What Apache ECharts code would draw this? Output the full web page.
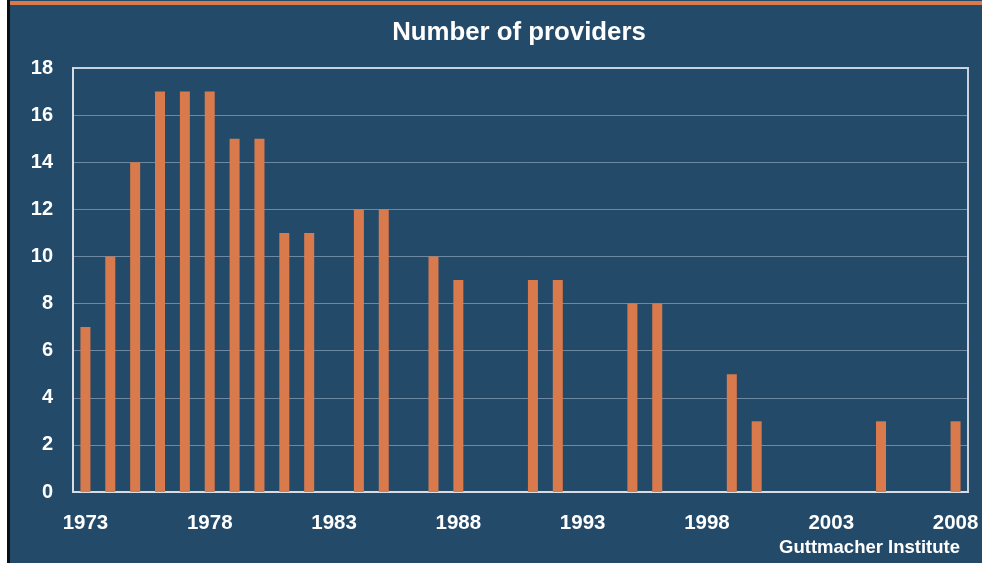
<!DOCTYPE html>
<html><head><meta charset="utf-8">
<script src="https://cdn.jsdelivr.net/npm/echarts@6/dist/echarts.min.js"></script>
<style>html,body{margin:0;padding:0;background:#fff;}#c{width:982px;height:563px;}</style>
</head><body><div id="c"></div>
<script>
const years = [];
for (let y = 1973; y <= 2008; y++) years.push(String(y));
const providerYears = ['1973','1974','1975','1976','1977','1978','1979','1980','1981','1982','1984','1985','1987','1988','1991','1992','1995','1996','1999','2000','2005','2008'];
const providerCounts = [7,10,14,17,17,17,15,15,11,11,12,12,10,9,9,9,8,8,5,3,3,3];
const yTicks = [0,2,4,6,8,10,12,14,16,18];

const values = years.map(y => { const i = providerYears.indexOf(y); return i >= 0 ? providerCounts[i] : null; });

const chart = echarts.init(document.getElementById('c'), null, {renderer: 'canvas'});
chart.setOption({
  backgroundColor: '#244a6a',
  animation: false,
  title: {
    text: 'Number of providers', left: 514, top: 15, textAlign: 'center',
    textStyle: {color: '#ffffff', fontFamily: 'Liberation Sans, Arial', fontWeight: 'bold', fontSize: 25.8}
  },
  graphic: [
    {type: 'rect', left: 0, top: 0, shape: {width: 7, height: 563}, style: {fill: '#ffffff'}, z: 100},
    {type: 'rect', left: 7, top: 0, shape: {width: 3, height: 563}, style: {fill: '#0b0f14'}, z: 100},
    {type: 'rect', left: 10, top: 1, shape: {width: 972, height: 4}, style: {fill: '#d97a4d'}, z: 100},
    {type: 'text', right: 22, top: 538, style: {text: 'Guttmacher Institute', fill: '#ffffff', font: 'bold 18.5px Liberation Sans, Arial'}}
  ],
  grid: {left: 73, right: 14, top: 68, bottom: 71, show: true, borderColor: '#c9d2dc', borderWidth: 2, backgroundColor: 'transparent'},
  xAxis: {
    type: 'category', data: years, boundaryGap: true,
    axisLine: {lineStyle: {color: '#d6dde4', width: 2}},
    axisTick: {show: false},
    axisLabel: {color: '#ffffff', fontWeight: 'bold', fontSize: 20.5, fontFamily: 'Liberation Sans, Arial', interval: 4, margin: 21}
  },
  yAxis: {
    type: 'value', min: 0, max: 18, interval: 2,
    axisLine: {show: true, lineStyle: {color: '#d6dde4', width: 2}},
    axisTick: {show: false},
    splitLine: {lineStyle: {color: 'rgba(200,215,230,0.45)', width: 1}},
    axisLabel: {color: '#ffffff', fontWeight: 'bold', fontSize: 20, fontFamily: 'Liberation Sans, Arial', margin: 20,
      formatter: v => yTicks.includes(v) ? String(v) : ''}
  },
  series: [{
    type: 'bar', data: values, barWidth: 10,
    itemStyle: {color: '#d97a4d'}
  }]
});
</script></body></html>
